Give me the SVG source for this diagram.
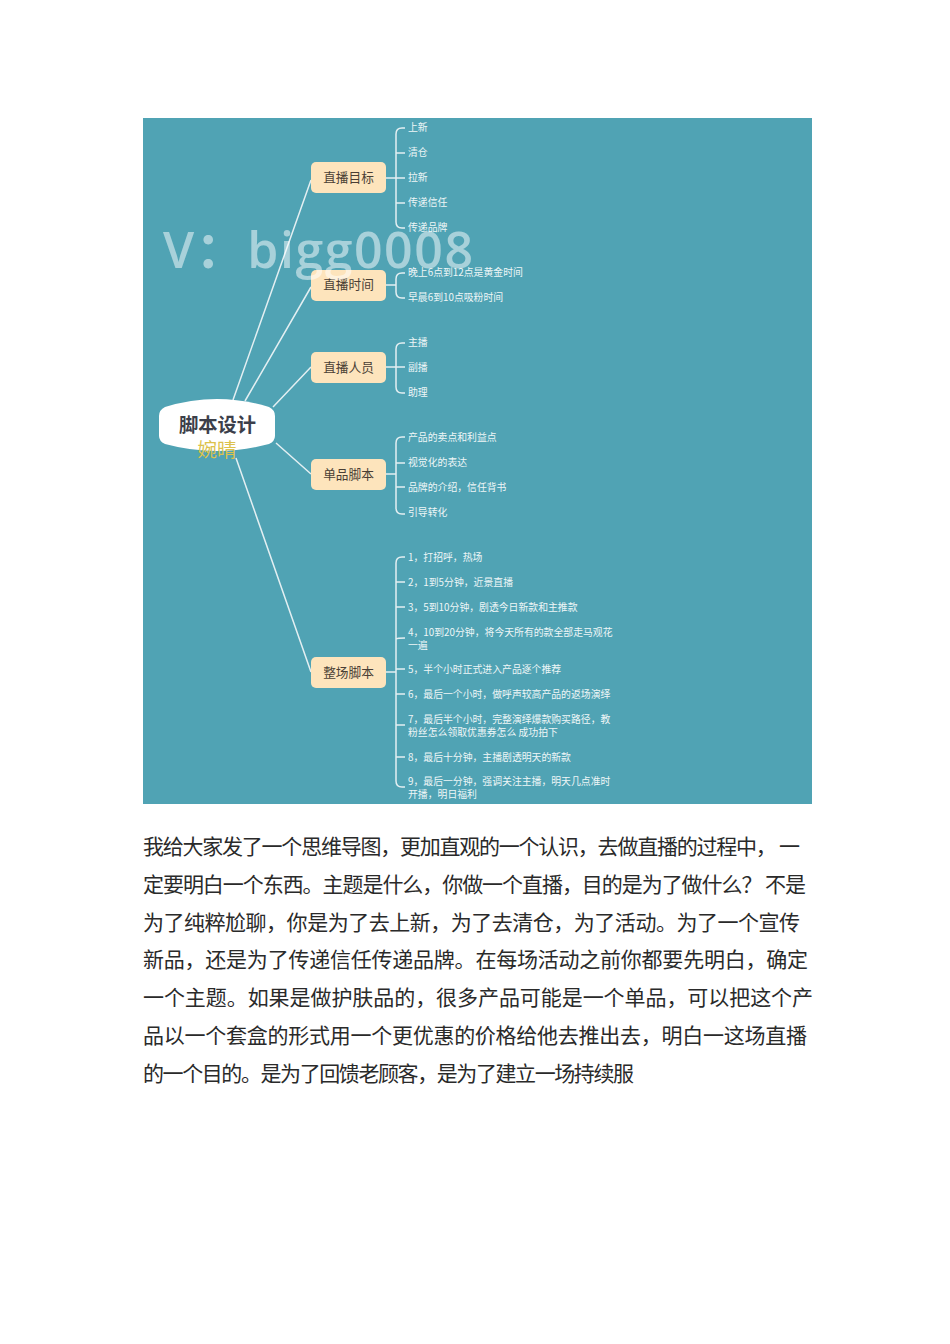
<svg xmlns="http://www.w3.org/2000/svg" width="950" height="1344" viewBox="0 0 950 1344">
<style>
text{font-family:"Noto Sans CJK SC","Liberation Sans",sans-serif}
.c{fill:none;stroke:#e3eff2;stroke-width:1.5}
.m{fill:none;stroke:#e3eff2;stroke-width:1.5}
.n{fill:#fde4bc}
.nt{font-size:12.7px;fill:#4a3f35;text-anchor:middle}
.l{font-size:9.85px;fill:#eef6f7}
.b{font-size:21px;fill:#2a2a2a}
</style>
<rect width="950" height="1344" fill="#fff"/>
<rect id="panel" x="143" y="118" width="669" height="686" fill="#50a3b4"/>
<g id="connectors">
<path class="m" d="M311 180L233 400M311 287L245 401M311 367L273 407M311 474L276 443M311 672L236 458"/>
<path class="c" d="M386 178H396M405 128H402Q396 128 396 134V222Q396 228 402 228H405M396 153H405M396 178H405M396 203H405"/>
<path class="c" d="M386 285H396M405 273H402Q396 273 396 279V292Q396 298 402 298H405"/>
<path class="c" d="M386 367H396M405 343H402Q396 343 396 349V387Q396 393 402 393H405M396 367H405"/>
<path class="c" d="M386 474H396M405 437H402Q396 437 396 443V508Q396 514 402 514H405M396 463H405M396 487H405"/>
<path class="c" d="M386 672H396M405 557H402Q396 557 396 563V781Q396 787 402 787H405M396 582H405M396 607H405M396 639Q397 638 405 638M396 669H405M396 694H405M396 725Q397 725 405 725M396 757H405"/>
</g>
<g id="root">
<path d="M159 416Q159 410 165 407Q217 391 269 407Q275 410 275 416V436Q275 441 269 444Q217 458 165 444Q159 441 159 436Z" fill="#fff"/>
<text x="217.500" y="432" font-size="19.300" font-weight="700" fill="#3c3f4a" text-anchor="middle">脚本设计</text>
<text x="217" y="457" font-size="19.500" fill="#dcc24c" text-anchor="middle">婉晴</text>
</g>
<g id="n1"><rect class="n" x="311" y="162" width="75" height="31" rx="5"/><text class="nt" x="348.500" y="181.500">直播目标</text></g>
<g id="n2"><rect class="n" x="311" y="270" width="75" height="31" rx="5"/><text class="nt" x="348.500" y="288.500">直播时间</text></g>
<g id="n3"><rect class="n" x="311" y="352" width="75" height="31" rx="5"/><text class="nt" x="348.500" y="371.500">直播人员</text></g>
<g id="n4"><rect class="n" x="311" y="459" width="75" height="31" rx="5"/><text class="nt" x="348.500" y="478.500">单品脚本</text></g>
<g id="n5"><rect class="n" x="311" y="657" width="75" height="31" rx="5"/><text class="nt" x="348.500" y="676.500">整场脚本</text></g>
<g id="leaves">
<text class="l" x="408" y="131">上新</text>
<text class="l" x="408" y="156">清仓</text>
<text class="l" x="408" y="181">拉新</text>
<text class="l" x="408" y="206">传递信任</text>
<text class="l" x="408" y="231">传递品牌</text>
<text class="l" x="408" y="276">晚上6点到12点是黄金时间</text>
<text class="l" x="408" y="301">早晨6到10点吸粉时间</text>
<text class="l" x="408" y="346">主播</text>
<text class="l" x="408" y="371">副播</text>
<text class="l" x="408" y="396">助理</text>
<text class="l" x="408" y="441">产品的卖点和利益点</text>
<text class="l" x="408" y="466">视觉化的表达</text>
<text class="l" x="408" y="491">品牌的介绍，信任背书</text>
<text class="l" x="408" y="516">引导转化</text>
<text class="l" x="408" y="561">1，打招呼，热场</text>
<text class="l" x="408" y="586">2，1到5分钟，近景直播</text>
<text class="l" x="408" y="611">3，5到10分钟，剧透今日新款和主推款</text>
<text class="l" x="408" y="636">4，10到20分钟，将今天所有的款全部走马观花</text>
<text class="l" x="408" y="649">一遍</text>
<text class="l" x="408" y="673">5，半个小时正式进入产品逐个推荐</text>
<text class="l" x="408" y="698">6，最后一个小时，做呼声较高产品的返场演绎</text>
<text class="l" x="408" y="723">7，最后半个小时，完整演绎爆款购买路径，教</text>
<text class="l" x="408" y="736">粉丝怎么领取优惠券怎么 成功拍下</text>
<text class="l" x="408" y="761">8，最后十分钟，主播剧透明天的新款</text>
<text class="l" x="408" y="785">9，最后一分钟，强调关注主播，明天几点准时</text>
<text class="l" x="408" y="798">开播，明日福利</text>
</g>
<text id="watermark" x="163" y="268" font-size="50" font-weight="600" fill="#fff" fill-opacity=".5" textLength="310" style="font-family:'Open Sans','Noto Sans CJK SC',sans-serif">V：bigg0008</text>
<g id="body">
<text class="b" x="143" y="853.500" textLength="657">我给大家发了一个思维导图，更加直观的一个认识，去做直播的过程中，  一</text>
<text class="b" x="143" y="891.500" textLength="663">定要明白一个东西。主题是什么，你做一个直播，目的是为了做什么？ 不是</text>
<text class="b" x="143" y="929.500" textLength="657">为了纯粹尬聊，你是为了去上新，为了去清仓，为了活动。为了一个宣传</text>
<text class="b" x="143" y="966.500" textLength="665">新品，还是为了传递信任传递品牌。在每场活动之前你都要先明白，确定</text>
<text class="b" x="143" y="1004.500" textLength="670">一个主题。如果是做护肤品的，很多产品可能是一个单品，可以把这个产</text>
<text class="b" x="143" y="1042.500" textLength="664">品以一个套盒的形式用一个更优惠的价格给他去推出去，明白一这场直播</text>
<text class="b" x="143" y="1080.500" textLength="491">的一个目的。是为了回馈老顾客，是为了建立一场持续服</text>
</g>
</svg>
